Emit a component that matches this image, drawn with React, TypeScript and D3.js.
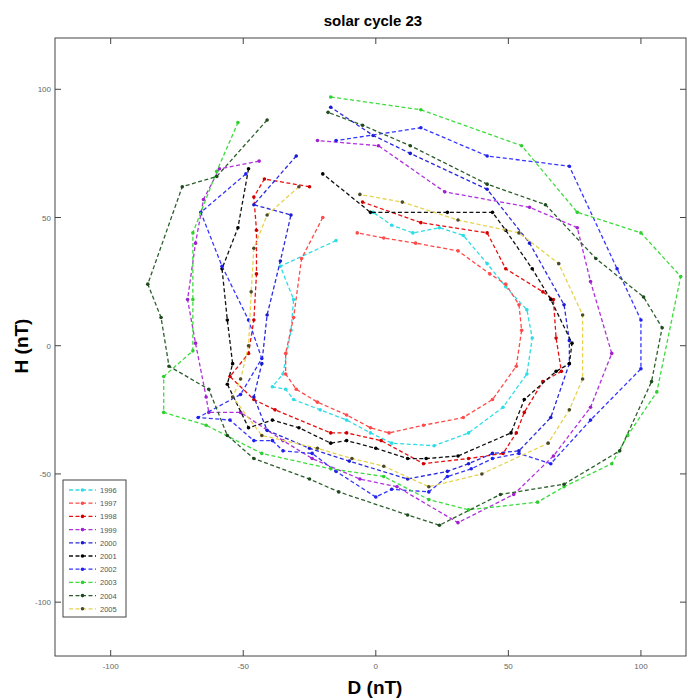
import * as d3 from 'd3';

type Pt = [number, number];

// D (nT), H (nT), one loop per year
const years = ['1996', '1997', '1998', '1999', '2000', '2001', '2002', '2003', '2004', '2005'];
const lineColors = ['#2cdde6', '#ff4a4a', '#e81010', '#b030dd', '#2a2ae0', '#111111', '#3535ff', '#3ddc3d', '#2c5e2c', '#e6d24e'];
const markerColors = ['#2cdde6', '#ff4a4a', '#d00000', '#a020d0', '#1a1ad0', '#000000', '#2020f0', '#2fcf2f', '#1e4a1e', '#4a4a2a'];

const d1996: Pt[] = [[-15, 41], [-36, 31], [-31, 18], [-32, 6], [-35, -11], [-39, -16], [-34, -17], [-31, -21], [-21, -25], [-11, -29], [-2, -34], [6, -38], [22, -39], [35, -34], [48, -24], [57, -11], [59, 3], [57, 14], [49, 23], [42, 32], [33, 43], [24, 46], [14, 44], [6, 47], [-1, 52]];
const d1997: Pt[] = [[-20, 50], [-28, 34], [-31, 11], [-34, -3], [-34, -11], [-30, -17], [-22, -22], [-11, -27], [-2, -32], [5, -34], [18, -31], [33, -28], [44, -21], [53, -8], [55, 6], [54, 16], [49, 24], [43, 28], [31, 37], [15, 40], [3, 42], [-7, 44]];
const d1998: Pt[] = [[-25, 62], [-42, 65], [-46, 58], [-45, 45], [-45, 28], [-46, 10], [-48, -3], [-55, -12], [-46, -21], [-38, -25], [-17, -34], [-11, -34], [2, -37], [18, -46], [35, -44], [48, -42], [53, -34], [56, -26], [63, -14], [70, -10], [68, 3], [67, 18], [63, 21], [49, 30], [42, 44], [17, 48], [-5, 56]];
const d1999: Pt[] = [[-44, 72], [-59, 69], [-65, 57], [-68, 40], [-71, 18], [-68, 1], [-64, -20], [-63, -26], [-51, -26], [-35, -37], [-24, -44], [-6, -52], [8, -55], [31, -69], [52, -58], [67, -43], [81, -24], [89, -3], [81, 25], [76, 46], [58, 54], [26, 60], [1, 78], [-22, 80]];
const d2000: Pt[] = [[-30, 74], [-46, 55], [-32, 51], [-36, 33], [-41, 12], [-43, -7], [-46, -20], [-41, -33], [-25, -40], [-10, -45], [12, -52], [27, -49], [35, -46], [44, -42], [54, -41], [66, -28], [73, -7], [73, 2], [71, 16], [58, 40], [42, 61], [13, 75], [-1, 82], [-17, 93]];
const d2001: Pt[] = [[-48, 69], [-52, 46], [-58, 30], [-56, 10], [-54, -7], [-56, -15], [-48, -32], [-39, -29], [-29, -32], [-17, -38], [-11, -37], [0, -40], [12, -44], [19, -44], [31, -43], [51, -34], [56, -21], [68, -10], [73, -7], [74, 1], [66, 18], [59, 30], [49, 45], [44, 52], [27, 52], [-2, 52], [-20, 67]];
const d2002: Pt[] = [[-49, 67], [-66, 52], [-58, 31], [-48, 10], [-43, -5], [-51, -19], [-67, -28], [-55, -29], [-46, -37], [-39, -37], [-35, -41], [-24, -42], [-15, -49], [0, -59], [6, -56], [20, -57], [27, -51], [36, -48], [44, -44], [54, -42], [66, -46], [81, -29], [100, -9], [100, 10], [91, 30], [73, 70], [42, 74], [17, 85], [-15, 80]];
const d2003: Pt[] = [[-17, 97], [17, 92], [55, 78], [76, 52], [100, 44], [115, 27], [106, -18], [95, -35], [89, -46], [71, -55], [61, -61], [35, -64], [20, -60], [3, -51], [-17, -48], [-43, -42], [-64, -31], [-80, -26], [-80, -12], [-69, -2], [-69, 18], [-69, 44], [-60, 68], [-52, 87]];
const d2004: Pt[] = [[-41, 88], [-60, 66], [-73, 62], [-86, 24], [-81, 11], [-78, -8], [-63, -17], [-56, -35], [-46, -44], [-25, -52], [-14, -57], [12, -66], [24, -70], [47, -58], [71, -54], [92, -41], [104, -14], [108, 7], [101, 19], [83, 34], [64, 55], [42, 63], [13, 78], [-5, 86], [-18, 91]];
const d2005: Pt[] = [[-29, 62], [-41, 51], [-46, 38], [-47, 21], [-48, 0], [-51, -13], [-54, -20], [-43, -35], [-22, -40], [-9, -44], [3, -47], [20, -55], [40, -50], [65, -38], [73, -25], [78, -13], [78, 12], [69, 32], [54, 44], [31, 49], [10, 56], [-6, 59]];

const series: Pt[][] = [d1996, d1997, d1998, d1999, d2000, d2001, d2002, d2003, d2004, d2005];
const xTicks = [-100, -50, 0, 50, 100];
const yTicks = [-100, -50, 0, 50, 100];

export default function App() {
    const [left, right, top, bottom] = [55, 686, 38, 656];
    const x = d3.scaleLinear().domain([-121, 117]).range([left, right]);
    const y = d3.scaleLinear().domain([-121, 120]).range([bottom, top]);
    const line = d3.line<Pt>().x(d => x(d[0])).y(d => y(d[1]));
    const narrow = '"Liberation Sans Narrow", "Liberation Sans", Arial, sans-serif';

    return (
        <svg width={693} height={700} style={{ position: 'absolute', left: 0, top: 0, background: '#fff' }}>
            <rect x={0} y={0} width={693} height={700} fill="#fff" />
            <text x={373} y={26} textAnchor="middle" fontFamily={narrow} fontWeight="bold" fontSize={15}>solar cycle 23</text>

            {/* data loops */}
            <g>
                {series.map((s, i) => (
                    <g key={years[i]}>
                        <path d={line(s) || ''} fill="none" stroke={lineColors[i]} strokeWidth={1.3} strokeDasharray="4,2.5" />
                        {s.map((p, j) => (
                            <circle key={j} cx={x(p[0])} cy={y(p[1])} r={1.8} fill={markerColors[i]} />
                        ))}
                    </g>
                ))}
            </g>

            {/* frame and ticks */}
            <rect x={left} y={top} width={right - left} height={bottom - top} fill="none" stroke="#444" strokeWidth={1} />
            {xTicks.map(t => (
                <g key={'x' + t}>
                    <line x1={x(t)} x2={x(t)} y1={bottom} y2={bottom - 6} stroke="#444" />
                    <line x1={x(t)} x2={x(t)} y1={top} y2={top + 6} stroke="#444" />
                    <text x={x(t)} y={bottom + 13} textAnchor="middle" fontFamily={narrow} fontSize={8} fill="#666">{t}</text>
                </g>
            ))}
            {yTicks.map(t => (
                <g key={'y' + t}>
                    <line x1={left} x2={left + 6} y1={y(t)} y2={y(t)} stroke="#444" />
                    <line x1={right} x2={right - 6} y1={y(t)} y2={y(t)} stroke="#444" />
                    <text x={left - 4} y={y(t) + 3} textAnchor="end" fontFamily={narrow} fontSize={8} fill="#666">{t}</text>
                </g>
            ))}

            {/* axis labels */}
            <text x={375} y={694} textAnchor="middle" fontFamily={narrow} fontWeight="bold" fontSize={19}>D (nT)</text>
            <text transform={`translate(28,346) rotate(-90)`} textAnchor="middle" fontFamily={narrow} fontWeight="bold" fontSize={19}>H (nT)</text>

            {/* legend */}
            <g transform="translate(63,480)">
                <rect x={0} y={0} width={63} height={137} fill="#fff" stroke="#444" strokeWidth={1} />
                {years.map((yr, i) => (
                    <g key={yr} transform={`translate(0,${10 + i * 13.2})`}>
                        <line x1={6} x2={33} y1={0} y2={0} stroke={lineColors[i]} strokeWidth={1.3} strokeDasharray="4,2.5" />
                        <circle cx={19.5} cy={0} r={1.8} fill={markerColors[i]} />
                        <text x={37} y={3} fontFamily={narrow} fontSize={7.5} fill="#555">{yr}</text>
                    </g>
                ))}
            </g>
        </svg>
    );
}
